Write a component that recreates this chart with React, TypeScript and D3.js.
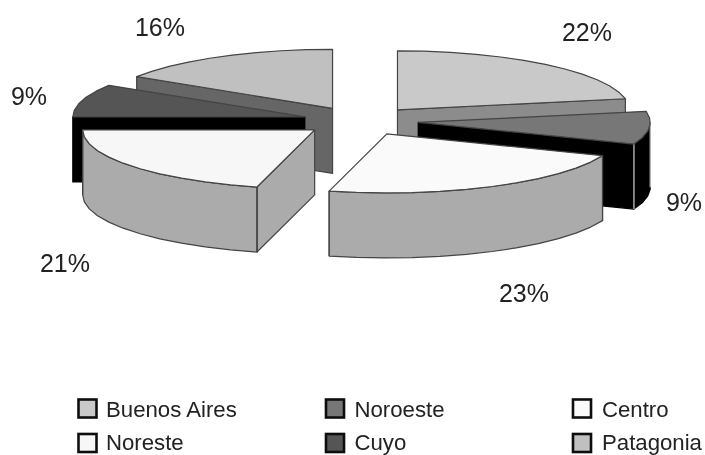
import * as d3 from 'd3'

const regions = ['Buenos Aires', 'Noroeste', 'Centro', 'Noreste', 'Cuyo', 'Patagonia']
const shares = [22, 9, 23, 21, 9, 16]
const topColors = ['#c9c9c9', '#777777', '#fafafa', '#f7f7f7', '#555555', '#c0c0c0']
const sideColors = ['#8c8c8c', '#000000', '#ababab', '#ababab', '#000000', '#666666']
const edgeColors = ['#444', '#d0d0d0', '#444', '#444', '#000', '#444']
const legendRegions = [['Buenos Aires', 'Noreste'], ['Noroeste', 'Cuyo'], ['Centro', 'Patagonia']]

const width = 705
const height = 455
const cx = 360.5
const cy = 121
const rx = 232
const ry = 59
const depth = 65
const explodeX = 58
const explodeY = 14.5
const legendX = [78.5, 326, 573]
const legendTextX = [106, 354.5, 602]
const legendY = [399.5, 434]
const legendTextY = [417, 450]
const labelX = [587, 684, 524, 65, 29, 160]
const labelY = [41, 211, 302, 272, 105, 36]

type P = [number, number]

const pie = d3.pie<number>().sort(null)(shares)
const line = d3.line()

// painted back to front
const paintOrder = [0, 5, 4, 1, 3, 2]

function sliceShapes(i: number) {
  const { startAngle: a0, endAngle: a1 } = pie[i]
  const mid = (a0 + a1) / 2
  const ox = cx + explodeX * Math.sin(mid)
  const oy = cy - explodeY * Math.cos(mid)
  const rim = (a: number): P => [ox + rx * Math.sin(a), oy - ry * Math.cos(a)]
  const drop = (p: P): P => [p[0], p[1] + depth]
  const apex: P = [ox, oy]

  const steps = Math.max(2, Math.ceil((a1 - a0) / (Math.PI / 26)))
  const arcAngles = d3.range(steps + 1).map(k => a0 + ((a1 - a0) * k) / steps)
  const arc = arcAngles.map(rim)

  const wall0 = Math.max(a0, Math.PI / 2)
  const wall1 = Math.min(a1, (3 * Math.PI) / 2)
  let wall: P[] = []
  if (wall1 > wall0) {
    const inside = arcAngles.filter(a => a > wall0 && a < wall1)
    const front = [wall0, ...inside, wall1].map(rim)
    wall = [...front, ...front.slice().reverse().map(drop)]
  }
  const cut = (p: P): P[] => [apex, p, drop(p), drop(apex)]
  // only the cut faces turned towards the viewer
  const cuts: P[][] = []
  if (a0 > Math.PI) cuts.push(cut(rim(a0)))
  if (a1 < Math.PI) cuts.push(cut(rim(a1)))
  return {
    top: [apex, ...arc],
    cuts,
    wall,
    edges: wall.length ? [rim(wall0), rim(wall1)] : [],
    drop,
  }
}

export default function App() {
  return (
    <svg
      width={width}
      height={height}
      style={{ position: 'absolute', left: 0, top: 0, background: '#fff', fontFamily: '"Liberation Sans", Arial, sans-serif' }}
    >
      <defs>
        <filter id="soft" x="0" y="0" width="100%" height="100%">
          <feGaussianBlur stdDeviation="0.55" />
        </filter>
      </defs>
      <rect width={width} height={height} fill="#fff" />
      <g filter="url(#soft)">
        {paintOrder.map(i => {
          const s = sliceShapes(i)
          const side = sideColors[i]
          const stroke = side === '#000000' ? '#000' : '#444'
          return (
            <g key={regions[i]} strokeWidth={1.2} strokeLinejoin="round">
              {s.cuts.map((c, k) => (
                <path key={k} d={line(c) + 'Z'} fill={side} stroke={stroke} />
              ))}
              {s.wall.length > 0 && <path d={line(s.wall) + 'Z'} fill={side} stroke={stroke} />}
              {s.edges.map((e, k) => (
                <path key={k} d={line([e, s.drop(e)]) as string} stroke={edgeColors[i]} fill="none" />
              ))}
              <path d={line(s.top) + 'Z'} fill={topColors[i]} stroke="#444" />
            </g>
          )
        })}

        {shares.map((v, i) => (
          <text key={i} x={labelX[i]} y={labelY[i]} textAnchor="middle" fontSize={25} fill="#222">
            {v}%
          </text>
        ))}

        {legendRegions.map((col, c) =>
          col.map((name, r) => {
            const i = regions.indexOf(name)
            return (
              <g key={name}>
                <rect x={legendX[c]} y={legendY[r]} width={18} height={18} fill={topColors[i]} stroke="#111" strokeWidth={2.6} />
                <text x={legendTextX[c]} y={legendTextY[r]} fontSize={22.2} fill="#222">
                  {name}
                </text>
              </g>
            )
          })
        )}
      </g>
    </svg>
  )
}
